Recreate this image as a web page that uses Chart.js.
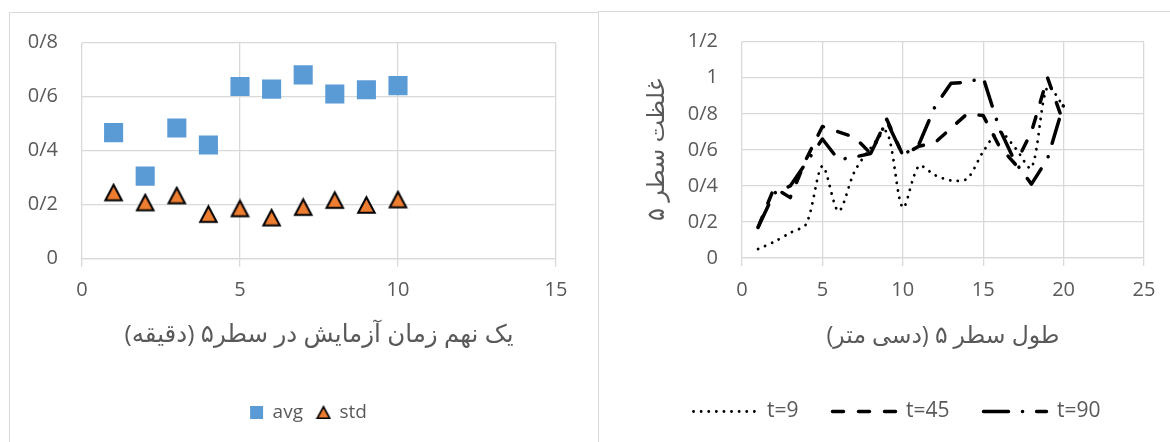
<!DOCTYPE html>
<html>
<head>
<meta charset="utf-8">
<script src="https://cdn.jsdelivr.net/npm/chart.js@4.4.1/dist/chart.umd.min.js"></script>
<style>
  html, body { margin: 0; padding: 0; background: #fff; }
  body { width: 1170px; height: 442px; position: relative; overflow: hidden; }
  .panel { position: absolute; border: 1.5px solid #d9d9d9; box-sizing: border-box; }
  #leftPanel { left: 9px; top: 12px; width: 590px; height: 470px; }
  #rightPanel { left: 598px; top: 11px; width: 620px; height: 470px; }
  canvas { position: absolute; top: 0; }
  #leftChart { left: 0; }
  #rightChart { left: 598px; }
</style>
</head>
<body>
<div class="panel" id="leftPanel"></div>
<div class="panel" id="rightPanel"></div>
<canvas id="leftChart" width="598" height="442"></canvas>
<canvas id="rightChart" width="572" height="442"></canvas>
<script>
// left chart: avg / std per ninth of test time
const minutes = [1, 2, 3, 4, 5, 6, 7, 8, 9, 10];
const avgValues = [0.467, 0.306, 0.484, 0.421, 0.638, 0.628, 0.681, 0.610, 0.626, 0.641];
const stdValues = [0.245, 0.208, 0.234, 0.165, 0.186, 0.152, 0.191, 0.217, 0.199, 0.219];

// right chart: concentration along row 5
const lengths = [1, 2, 3, 4, 5, 6, 7, 8, 9, 10, 11, 12, 13, 14, 15, 16, 17, 18, 19, 20];
const t9 = [0.05, 0.09, 0.14, 0.19, 0.51, 0.26, 0.48, 0.61, 0.70, 0.28, 0.51, 0.46, 0.43, 0.44, 0.59, 0.70, 0.61, 0.50, 0.95, 0.84];
const t45 = [0.17, 0.39, 0.335, 0.55, 0.73, 0.70, 0.67, 0.58, 0.77, 0.57, 0.62, 0.64, 0.72, 0.80, 0.79, 0.62, 0.52, 0.70, 1.0, 0.75];
const t90 = [0.17, 0.36, 0.40, 0.53, 0.66, 0.545, 0.56, 0.58, 0.76, 0.57, 0.63, 0.84, 0.97, 0.975, 1.0, 0.72, 0.53, 0.41, 0.55, 0.85];

const leftXTitle = 'یک نهم زمان آزمایش در سطر۵ (دقیقه)\u200F';
const rightXTitle = 'طول سطر ۵ (دسی متر)\u200F';
const rightYTitle = 'غلظت سطر ۵';

const grey = '#595959';
const gridCol = '#d9d9d9';
Chart.defaults.font.family = "'Open Sans', 'DejaVu Sans', sans-serif";
Chart.defaults.color = grey;
Chart.defaults.animation = false;

function slashNum(v) {
  return String(Math.round(v * 10) / 10).replace('.', '/');
}

function makeTriangle(w, h, lw) {
  const c = document.createElement('canvas');
  c.width = Math.ceil(w + lw * 2);
  c.height = Math.ceil(h + lw * 2);
  const ctx = c.getContext('2d');
  const cx = c.width / 2, top = (c.height - h) / 2;
  ctx.beginPath();
  ctx.moveTo(cx, top);
  ctx.lineTo(cx + w / 2, top + h);
  ctx.lineTo(cx - w / 2, top + h);
  ctx.closePath();
  ctx.fillStyle = '#ed7d31';
  ctx.fill();
  ctx.lineWidth = lw;
  ctx.strokeStyle = '#000';
  ctx.stroke();
  return c;
}
const triBig = makeTriangle(16.5, 15.5, 2);
const triSmall = makeTriangle(12.5, 11.5, 1.6);

// moves the legend row so that its middle sits at a given x
const legendShift = {
  id: 'legendShift',
  afterLayout(chart, args, opts) {
    const lg = chart.legend;
    if (!lg || opts.center == null) return;
    const d = opts.center - (lg.left + lg.right) / 2;
    lg.left += d;
    lg.right += d;
  }
};

// layout numbers (canvas pixels)
const padBottom = 10;

function xAxisHeight(chartBottom, legendFont, legendPadding) {
  const legendH = legendFont + legendPadding + 10;
  return 442 - padBottom - legendH - chartBottom;
}

// ---------- left chart ----------
const leftLegendFont = 19;
const leftLegendPad = 14;
new Chart(document.getElementById('leftChart'), {
  type: 'scatter',
  plugins: [legendShift],
  data: {
    datasets: [
      {
        label: 'avg',
        data: minutes.map((m, i) => ({ x: m, y: avgValues[i] })),
        pointStyle: 'rect',
        pointRadius: 13.5,
        pointHoverRadius: 13.5,
        backgroundColor: '#5b9bd5',
        borderWidth: 0
      },
      {
        label: 'std',
        data: minutes.map((m, i) => ({ x: m, y: stdValues[i] })),
        pointStyle: triBig,
        backgroundColor: '#ed7d31',
        borderColor: '#000',
        borderWidth: 0
      }
    ]
  },
  options: {
    responsive: false,
    events: [],
    layout: { padding: { left: 20, right: 42, top: 42.7, bottom: padBottom } },
    plugins: {
      tooltip: { enabled: false },
      legendShift: { center: 308.5 },
      legend: {
        position: 'bottom',
        labels: {
          usePointStyle: true,
          boxWidth: 13,
          boxHeight: 13,
          padding: leftLegendPad,
          font: { size: leftLegendFont },
          generateLabels: chart => {
            const items = Chart.defaults.plugins.legend.labels.generateLabels(chart);
            items[1].pointStyle = triSmall;
            return items;
          }
        }
      }
    },
    scales: {
      x: {
        type: 'linear',
        min: 0,
        max: 15,
        ticks: { stepSize: 5, padding: 12, font: { size: 20 } },
        grid: { color: gridCol, lineWidth: 1.3, tickLength: 8 },
        border: { color: gridCol, width: 1.3 },
        title: { display: true, text: leftXTitle, font: { size: 24.5 }, padding: { top: 0, bottom: 39.5 } },
        afterFit: s => { s.height = xAxisHeight(258.7, leftLegendFont, leftLegendPad); }
      },
      y: {
        min: 0,
        max: 0.8,
        ticks: { stepSize: 0.2, padding: 24, font: { size: 20 }, callback: slashNum },
        grid: { color: gridCol, lineWidth: 1.3, drawTicks: false },
        border: { display: false },
        afterFit: s => { s.width = 62; }
      }
    }
  }
});

// ---------- right chart ----------
const rightLegendFont = 21;
const rightLegendPad = 34;
function lineSet(label, values, width, dash) {
  return {
    label,
    data: lengths.map((l, i) => ({ x: l, y: values[i] })),
    borderColor: '#000',
    backgroundColor: '#000',
    borderWidth: width,
    borderDash: dash,
    borderCapStyle: 'round',
    borderJoinStyle: 'round',
    pointRadius: 0,
    pointStyle: 'line',
    fill: false,
    tension: label === 't=9' ? 0.3 : 0
  };
}

new Chart(document.getElementById('rightChart'), {
  type: 'line',
  data: {
    datasets: [
      lineSet('t=9', t9, 2.8, [0.1, 7.5]),
      lineSet('t=45', t45, 3.5, [11, 15]),
      lineSet('t=90', t90, 3.5, [25, 14, 0.1, 14])
    ]
  },
  options: {
    responsive: false,
    events: [],
    layout: { padding: { left: 52, right: 26, top: 41.7, bottom: padBottom } },
    plugins: {
      tooltip: { enabled: false },
      legend: {
        position: 'bottom',
        labels: {
          usePointStyle: true,
          pointStyleWidth: 63,
          padding: rightLegendPad,
          font: { size: rightLegendFont },
          generateLabels: chart => chart.data.datasets.map((ds, i) => ({
            text: ds.label,
            fillStyle: 'rgba(0,0,0,0)',
            strokeStyle: '#000',
            lineWidth: ds.borderWidth,
            lineDash: ds.borderDash,
            lineCap: 'round',
            pointStyle: 'line',
            fontColor: grey,
            hidden: false,
            datasetIndex: i
          }))
        }
      }
    },
    scales: {
      x: {
        type: 'linear',
        min: 0,
        max: 25,
        ticks: { stepSize: 5, padding: 12, font: { size: 20 } },
        grid: { color: gridCol, lineWidth: 1.3, tickLength: 8 },
        border: { color: gridCol, width: 1.3 },
        title: { display: true, text: rightXTitle, font: { size: 23.5 }, padding: { top: 0, bottom: 17 } },
        afterFit: s => { s.height = xAxisHeight(258, rightLegendFont, rightLegendPad); }
      },
      y: {
        min: 0,
        max: 1.2,
        ticks: { stepSize: 0.2, padding: 24, font: { size: 20 }, callback: slashNum },
        grid: { color: gridCol, lineWidth: 1.3, drawTicks: false },
        border: { display: false },
        title: { display: true, text: rightYTitle, font: { size: 24 }, padding: { top: -7, bottom: 0 } },
        afterFit: s => { s.width = 92; }
      }
    }
  }
});
</script>
</body>
</html>
